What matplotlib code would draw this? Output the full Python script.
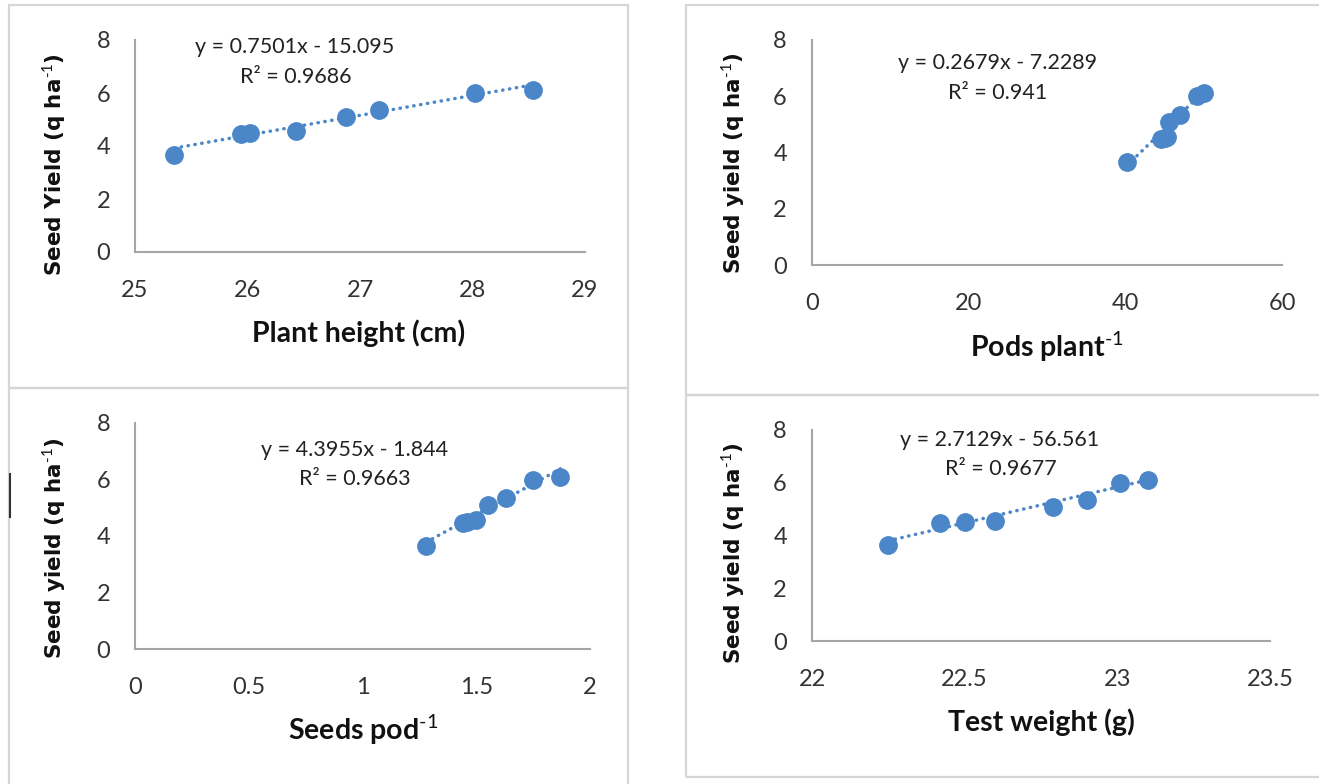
import matplotlib.pyplot as plt
import numpy as np
from matplotlib.lines import Line2D
from matplotlib.patches import Rectangle

plt.rcParams['font.family'] = 'Lato'
plt.rcParams['mathtext.fontset'] = 'custom'
plt.rcParams['mathtext.rm'] = 'Lato'
plt.rcParams['mathtext.bf'] = 'Lato:bold'

# seed yield (q/ha), same 8 treatments in every panel
seed_yield = [3.65, 4.47, 4.5, 4.55, 5.08, 5.35, 6.0, 6.1]

plant_height = [25.35, 25.94, 26.02, 26.43, 26.88, 27.17, 28.02, 28.54]
pods_plant = [40.2, 44.6, 45.0, 45.3, 45.6, 47.0, 49.2, 50.1]
seeds_pod = [1.28, 1.44, 1.46, 1.50, 1.55, 1.63, 1.75, 1.87]
test_weight = [22.25, 22.42, 22.50, 22.60, 22.79, 22.90, 23.01, 23.10]

slopes = [0.7501, 0.2679, 4.3955, 2.7129]
intercepts = [-15.095, -7.2289, -1.844, -56.561]
r2 = [0.9686, 0.941, 0.9663, 0.9677]

xlabels = ['Plant height (cm)', r'Pods plant$^{\mathbf{\text{-1}}}$',
           r'Seeds pod$^{\mathbf{\text{-1}}}$', 'Test weight (g)']
ylabels = [r'Seed Yield (q ha$^{\text{-1}}$)', r'Seed yield (q ha$^{\text{-1}}$)',
           r'Seed yield (q ha$^{\text{-1}}$)', r'Seed yield (q ha$^{\text{-1}}$)']
xticks = [[25, 26, 27, 28, 29], [0, 20, 40, 60],
          [0, 0.5, 1, 1.5, 2], [22, 22.5, 23, 23.5]]
xticklabels = [['25', '26', '27', '28', '29'], ['0', '20', '40', '60'],
               ['0', '0.5', '1', '1.5', '2'], ['22', '22.5', '23', '23.5']]
yticks = [0, 2, 4, 6, 8]

W, H = 1319, 784
BLUE = '#4a86c8'


def fx(x):
    return x / W


def fy(y):
    return 1 - y / H


fig = plt.figure(figsize=(13.19, 7.84), dpi=100)

# panel frames (pixel coords: left, top, right, bottom)
frames = [(9, 5, 628, 388), (686, 5, 1325, 395),
          (9, 388, 628, 790), (686, 395, 1325, 777)]
for l, t, r, b in frames:
    fig.add_artist(Rectangle((fx(l), fy(b)), fx(r - l), (b - t) / H,
                             fill=False, edgecolor='#d6d6d6', lw=1.6))
fig.add_artist(Line2D([fx(10), fx(10)], [fy(474), fy(517)],
                      color='#333333', lw=1.5))

# plot areas (pixel coords: left, top, right, bottom)
areas = [(135, 40, 585, 252), (812, 40, 1282, 265),
         (135, 423, 590, 649), (812, 430, 1270, 641)]
# label / text positions in pixels
ylab_pos = [(68, 165), (747, 163), (68, 548), (747, 553)]
xlab_pos = [(359, 333), (1047, 347), (363, 730), (1041, 722)]
eq_pos = [(295, 47), (998, 63), (355, 450), (1000, 440)]
r2_pos = [(296, 77), (998, 93), (355, 479), (1001, 469)]

xs = [plant_height, pods_plant, seeds_pod, test_weight]

for i in range(4):
    l, t, r, b = areas[i]
    ax = fig.add_axes([fx(l), fy(b), (r - l) / W, (b - t) / H])
    x = np.array(xs[i])
    ax.plot(x, seed_yield, 'o', color=BLUE, markersize=12.5, zorder=3)
    xl = np.array([x.min(), x.max()])
    ax.plot(xl, slopes[i] * xl + intercepts[i], color=BLUE, lw=2.5,
            linestyle=(0, (0.1, 1.9)), dash_capstyle='round', zorder=2)
    ax.set_xlim(xticks[i][0], xticks[i][-1])
    ax.set_ylim(0, 8)
    ax.set_xticks(xticks[i])
    ax.set_xticklabels(xticklabels[i])
    ax.set_yticks(yticks)
    ax.tick_params(length=0, labelsize=17, colors='#333333')
    ax.tick_params(axis='x', pad=20)
    ax.tick_params(axis='y', pad=18)
    for s in ['top', 'right']:
        ax.spines[s].set_visible(False)
    for s in ['left', 'bottom']:
        ax.spines[s].set_color('#a6a6a6')
        ax.spines[s].set_linewidth(1.5)
    ax.patch.set_alpha(0)

    ax.set_ylabel(ylabels[i], fontsize=15.5, fontweight='bold',
                  family='DejaVu Sans', color='#111111')
    px, py = ylab_pos[i]
    ax.yaxis.set_label_coords((px - l) / (r - l), (b - py) / (b - t))

    px, py = xlab_pos[i]
    fig.text(fx(px), fy(py), xlabels[i], fontsize=20.5, fontweight='bold',
             ha='center', va='center', color='#111111')

    eq = 'y = %sx - %s' % (slopes[i], abs(intercepts[i]))
    px, py = eq_pos[i]
    fig.text(fx(px), fy(py), eq, fontsize=15.5, ha='center', va='center',
             color='#222222')
    px, py = r2_pos[i]
    fig.text(fx(px), fy(py), 'R\u00b2 = %s' % r2[i], fontsize=15.5,
             ha='center', va='center', color='#222222')

fig.savefig('out.png', dpi=100)
